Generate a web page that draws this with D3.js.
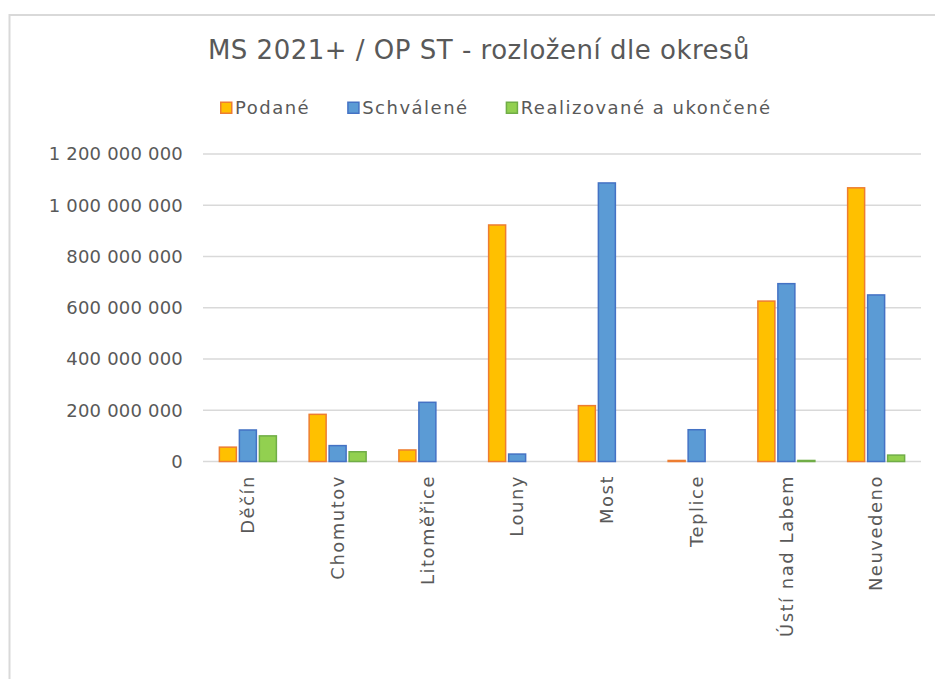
<!DOCTYPE html>
<html>
<head>
<meta charset="utf-8">
<script src="https://cdn.jsdelivr.net/npm/d3@7"></script>
<style>
  body { margin: 0; background: #fff; }
  text { font-family: "DejaVu Sans", sans-serif; fill: #595959; }
</style>
</head>
<body>
<div id="chart"></div>
<script>
// data
var categories = ["Děčín", "Chomutov", "Litoměřice", "Louny", "Most", "Teplice", "Ústí nad Labem", "Neuvedeno"];
var seriesNames = ["Podané", "Schválené", "Realizované a ukončené"];
var podane = [56e6, 184e6, 45e6, 923e6, 218e6, 4e6, 626e6, 1068e6];
var schvalene = [123e6, 62e6, 231e6, 29e6, 1087e6, 124e6, 694e6, 650e6];
var realizovane = [100e6, 38e6, 0, 0, 0, 0, 4e6, 25e6];
var yTicks = [0, 200e6, 400e6, 600e6, 800e6, 1000e6, 1200e6];

var fills = ["#FFC000", "#5B9BD5", "#92D050"];
var strokes = ["#ED7D31", "#4472C4", "#70AD47"];

var width = 935,
    height = 679;

var svg = d3.select("#chart").append("svg")
    .attr("width", width)
    .attr("height", height);

svg.append("rect").attr("width", width).attr("height", height).attr("fill", "#fff");

// chart frame (only top + left visible)
svg.append("path")
    .attr("d", "M9.5," + height + "V15H" + width)
    .attr("fill", "none")
    .attr("stroke", "#d9d9d9")
    .attr("stroke-width", 2);

var locale = d3.formatLocale({decimal: ",", thousands: " ", grouping: [3], currency: ["", ""]});
var fmt = locale.format(",d");

var x = d3.scaleBand().domain(categories).range([203, 921]).paddingInner(0).paddingOuter(0);
var groupW = x.bandwidth() * 0.635;
var x1 = d3.scaleBand().domain([0, 1, 2]).range([0, groupW]).paddingInner(0.15);
var y = d3.scaleLinear().domain([0, 1200e6]).range([461.5, 154]);

// gridlines
svg.append("g").selectAll("line")
    .data(yTicks)
    .enter().append("line")
    .attr("x1", 203).attr("x2", 921)
    .attr("y1", function(d) { return y(d); })
    .attr("y2", function(d) { return y(d); })
    .attr("stroke", "#d9d9d9")
    .attr("stroke-width", 1.5);

// y labels
svg.append("g").selectAll("text")
    .data(yTicks)
    .enter().append("text")
    .attr("x", 183)
    .attr("y", function(d) { return y(d); })
    .attr("dy", "0.36em")
    .attr("text-anchor", "end")
    .style("font-size", "18px")
    .style("letter-spacing", "0.2px")
    .text(function(d) { return fmt(d); });

// bars
var allSeries = [podane, schvalene, realizovane];
allSeries.forEach(function(vals, s) {
    svg.append("g").selectAll("rect")
        .data(vals.map(function(v, i) { return {cat: categories[i], v: v}; }).filter(function(d) { return d.v > 0; }))
        .enter().append("rect")
        .attr("x", function(d) { return x(d.cat) + (x.bandwidth() - groupW) / 2 + x1(s); })
        .attr("width", x1.bandwidth())
        .attr("y", function(d) { return y(d.v); })
        .attr("height", function(d) { return y(0) - y(d.v); })
        .attr("fill", fills[s])
        .attr("stroke", strokes[s])
        .attr("stroke-width", 1.5);
});

// x labels, rotated
svg.append("g").selectAll("text")
    .data(categories)
    .enter().append("text")
    .attr("transform", function(d) { return "translate(" + (x(d) + x.bandwidth() / 2) + ",475) rotate(-90)"; })
    .attr("dy", "0.35em")
    .attr("text-anchor", "end")
    .style("font-size", "18px")
    .style("letter-spacing", "1.5px")
    .text(function(d) { return d; });

// title
svg.append("text")
    .attr("x", 479)
    .attr("y", 59)
    .attr("text-anchor", "middle")
    .style("font-size", "26px")
    .style("letter-spacing", "0.5px")
    .text("MS 2021+ / OP ST - rozložení dle okresů");

// legend
var legend = svg.append("g");
var lx = 220;
seriesNames.forEach(function(name, s) {
    var item = legend.append("g").attr("transform", "translate(" + lx + ",0)");
    item.append("rect")
        .attr("x", 0.75).attr("y", 102.25)
        .attr("width", 11).attr("height", 11)
        .attr("fill", fills[s])
        .attr("stroke", strokes[s])
        .attr("stroke-width", 1.5);
    var t = item.append("text")
        .attr("x", 15)
        .attr("y", 114)
        .style("font-size", "18px")
        .style("letter-spacing", "1.5px")
        .text(name);
    lx += 15 + t.node().getComputedTextLength() + 37;
});
</script>
</body>
</html>
